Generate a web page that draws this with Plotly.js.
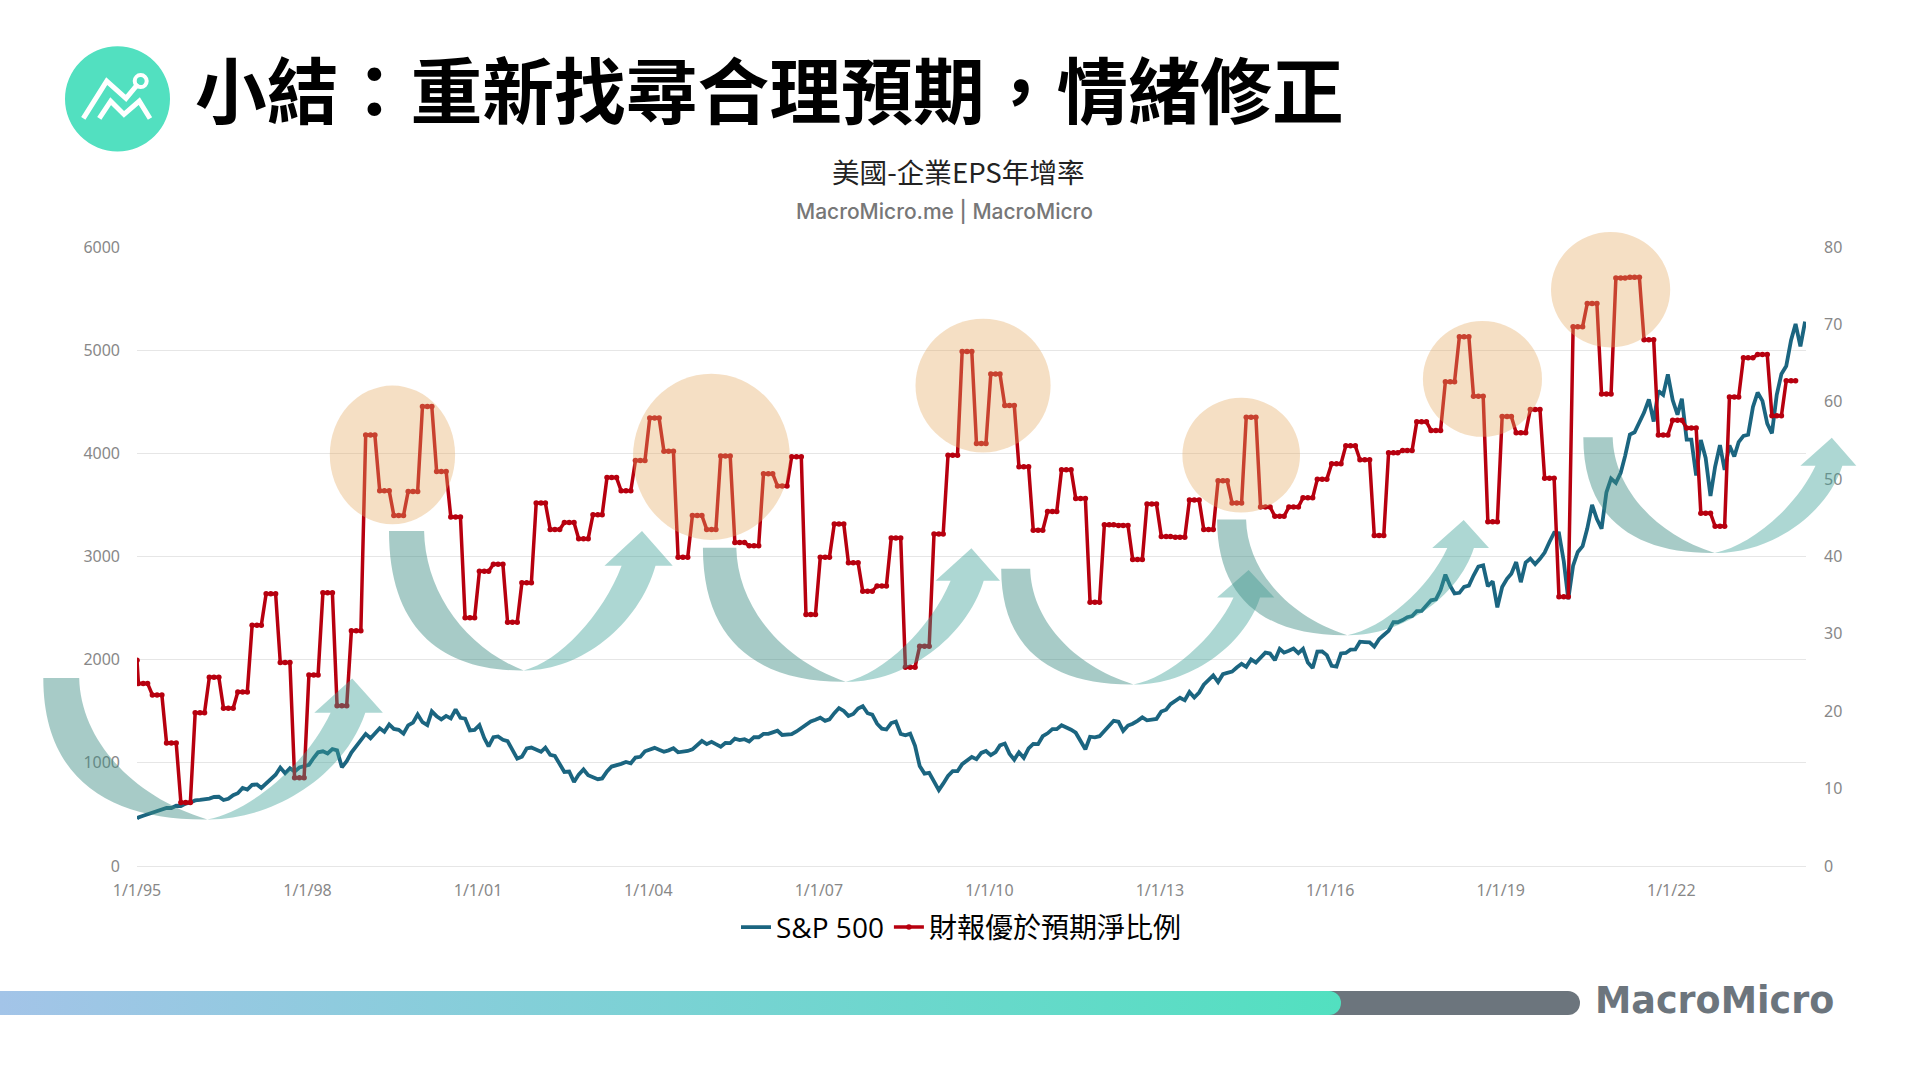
<!DOCTYPE html>
<html>
<head>
<meta charset="utf-8">
<script src="https://cdn.plot.ly/plotly-3.0.1.min.js"></script>
<style>
html,body{margin:0;padding:0;background:#fff;width:1920px;height:1080px;overflow:hidden}
#chart{position:absolute;left:0;top:0;width:1920px;height:1080px}
#barGray{position:absolute;left:1200px;top:991px;width:380px;height:24px;background:#6c757d;border-radius:0 12px 12px 0}
#barGrad{position:absolute;left:0;top:991px;width:1341px;height:24px;background:linear-gradient(90deg,#a3c4e8 0%,#52e0c0 100%);border-radius:0 12px 12px 0}
</style>
</head>
<body>
<div id="chart"></div>
<div id="barGray"></div>
<div id="barGrad"></div>
<script>
var titleText = '小結：重新找尋合理預期，情緒修正';
var subTitleText = '美國-企業EPS年增率';
var sourceText = 'MacroMicro.me | MacroMicro';
var brandText = 'MacroMicro';
var seriesNames = ['S&P 500', '財報優於預期淨比例'];
var xTickVals = ['1995-01-01','1998-01-01','2001-01-01','2004-01-01','2007-01-01','2010-01-01','2013-01-01','2016-01-01','2019-01-01','2022-01-01'];
var xTickText = ['1/1/95','1/1/98','1/1/01','1/1/04','1/1/07','1/1/10','1/1/13','1/1/16','1/1/19','1/1/22'];

// S&P 500, first value then one value per month from Jan 1995
var spFirst = 459;
var sp500 = [
470,487,501,515,533,545,562,562,584,582,605,616,
636,640,646,654,669,671,640,652,687,705,757,741,
786,791,757,801,848,885,954,899,947,915,955,970,
980,1049,1102,1112,1091,1134,1121,957,1017,1099,1164,1229,
1280,1238,1286,1335,1302,1373,1329,1320,1283,1363,1389,1469,
1394,1366,1499,1452,1421,1455,1431,1518,1437,1429,1315,1320,
1366,1240,1160,1249,1256,1224,1211,1134,1041,1060,1139,1148,
1130,1107,1147,1077,1067,990,912,916,815,886,936,880,
856,841,849,917,964,975,990,1008,996,1051,1058,1112,
1131,1145,1126,1107,1121,1141,1102,1104,1115,1130,1174,1212,
1181,1204,1181,1157,1192,1191,1234,1220,1229,1207,1249,1248,
1280,1281,1295,1311,1270,1270,1277,1304,1336,1378,1401,1418,
1438,1407,1421,1482,1531,1503,1455,1474,1527,1549,1481,1468,
1379,1331,1323,1386,1400,1280,1267,1283,1166,969,896,903,
826,735,798,873,919,919,987,1021,1057,1036,1096,1115,
1074,1104,1169,1187,1089,1031,1102,1049,1141,1183,1181,1258,
1286,1327,1326,1364,1345,1321,1292,1219,1131,1253,1247,1258,
1312,1366,1408,1398,1310,1362,1379,1407,1441,1412,1416,1426,
1498,1515,1569,1598,1631,1606,1686,1633,1682,1757,1806,1848,
1783,1859,1872,1884,1924,1960,1931,2003,1972,2018,2068,2059,
1995,2105,2068,2086,2107,2063,2104,1972,1920,2079,2080,2044,
1940,1932,2060,2065,2097,2099,2174,2171,2168,2126,2199,2239,
2279,2364,2363,2384,2412,2423,2470,2472,2519,2575,2585,2674,
2824,2714,2641,2648,2705,2718,2816,2902,2914,2712,2760,2507,
2704,2784,2834,2946,2751,2942,2980,2926,2977,3038,3141,3231,
3226,2954,2585,2912,3044,3100,3271,3500,3363,3270,3622,3756,
3714,3811,3973,4181,4204,4298,4395,4523,4308,4605,4567,4766,
4516,4374,4530,4132,4132,3785,4130,3955,3586,3872,4080,3840,
4077,3970,4109,4169,4180,4450,4589,4508,4288,4194,4568,4770,
4846,5096,5254,5036,5277];

// Net share beating estimates, first value then one value per quarter from Q1 1995
var epsFirst = 26.6;
var epsQuarterly = [
23.6,22.1,15.9,8.2,19.8,24.4,20.4,22.5,31.1,35.2,26.3,11.4,
24.7,35.3,20.7,30.4,55.7,48.5,45.3,48.4,59.4,51.0,45.1,32.1,
38.1,39.0,31.5,36.6,46.9,43.5,44.4,42.3,45.4,50.2,48.5,52.4,
57.9,53.6,39.9,45.3,43.5,53.0,41.8,41.4,50.7,49.1,52.9,32.5,
39.9,44.2,39.2,35.5,36.2,42.4,25.7,28.4,42.9,53.1,66.5,54.6,
63.6,59.5,51.6,43.4,45.8,51.2,47.5,34.1,44.1,44.0,39.6,46.8,
42.6,42.5,47.3,43.5,49.8,46.9,58.0,46.4,45.2,46.4,47.6,50.0,
52.0,54.3,52.5,42.7,53.4,53.7,57.4,56.3,62.6,68.4,60.7,44.5,
58.1,56.0,59.0,50.1,34.8,69.7,72.7,61.0,76.0,76.1,68.0,55.7,
57.6,56.6,45.6,43.9,60.6,65.7,66.1,58.2,62.7];

// overlay decoration, in page pixels
var W = 1920, H = 1080;
var mL = 137, mR = 114, mT = 247.4, mB = 214.3;
var pw = W - mL - mR, ph = H - mT - mB;
function px(x){ return (x - mL) / pw; }
function py(y){ return (H - mB - y) / ph; }
function P(x, y){ return px(x).toFixed(5) + ',' + py(y).toFixed(5); }

function monthDate(i){
  var y = 1995 + Math.floor(i / 12), m = i % 12 + 1;
  return y + '-' + (m < 10 ? '0' : '') + m + '-10';
}
var spX = ['1995-01-01'], spY = [spFirst];
sp500.forEach(function(v, i){ spX.push(monthDate(i)); spY.push(v); });
var epsX = ['1995-01-01'], epsY = [epsFirst];
epsQuarterly.forEach(function(v, k){
  for (var j = 0; j < 3; j++){ epsX.push(monthDate(3 * k + j)); epsY.push(v); }
});

var circles = [
 [329.8,455.1,385.8,524.3],[633,789.8,373.9,540],[915.5,1050.6,319,452.6],
 [1182.4,1300,398,512.7],[1422.9,1542,321.3,437],[1551,1670.2,232.5,347.7]];
// x0,x1,ytop, tipx,tipy, headL,headR,headY, apexX,apexY, shaftL,shaftR
var arrows = [
 [43.3,79.2,678, 207.3,819.2, 314.3,382.9,712.6, 352.2,678.3, 330.6,365.3],
 [389,424.1,531.2, 523.7,670.4, 604.5,672.7,565.9, 642,531.2, 621.6,655.5],
 [702.9,736.3,547.9, 845.7,681.6, 935.5,1000,580.7, 971.4,548.3, 950.6,983.7],
 [1001.2,1030.2,568.9, 1133.5,684.3, 1217.1,1274.3,597.4, 1248.6,570, 1233.5,1260],
 [1217.1,1246.1,519.5, 1347.3,635.2, 1432.2,1489,548.1, 1463.7,520, 1447.3,1473.9],
 [1583.3,1612.7,437.4, 1714.7,553, 1800.4,1856.3,466, 1831.8,437.9, 1815.5,1842.4]];

var shapes = [];
circles.forEach(function(c){
  shapes.push({type:'circle',xref:'paper',yref:'paper',x0:px(c[0]),x1:px(c[1]),y0:py(c[3]),y1:py(c[2]),
    fillcolor:'rgba(230,170,100,0.38)',line:{width:0},layer:'above'});
});
arrows.forEach(function(a){
  var x0=a[0],x1=a[1],yt=a[2],tx=a[3],ty=a[4],hl=a[5],hr=a[6],hy=a[7],ax=a[8],ay=a[9],sl=a[10],sr=a[11];
  var dy=ty-yt, di=tx-x1, dO=tx-x0, hd=ty-hy, dR=sr-tx, dL=sl-tx;
  var left = 'M'+P(x0,yt)+' L'+P(x1,yt)+
    ' C'+P(x1+0.01*di,yt+0.42*dy)+' '+P(tx-0.61*di,ty-0.17*dy)+' '+P(tx,ty)+
    ' C'+P(tx-0.58*dO,ty+1)+' '+P(x0,yt+0.73*dy)+' '+P(x0,yt)+' Z';
  var right = 'M'+P(tx,ty)+
    ' C'+P(tx+0.42*dR,ty+1)+' '+P(sr-0.13*dR,hy+0.58*hd)+' '+P(sr,hy)+
    ' L'+P(hr,hy)+' L'+P(ax,ay)+' L'+P(hl,hy)+' L'+P(sl,hy)+
    ' C'+P(sl-0.19*dL,hy+0.47*hd)+' '+P(tx+0.36*dL,ty-0.08*hd)+' '+P(tx,ty)+' Z';
  shapes.push({type:'path',xref:'paper',yref:'paper',path:left,fillcolor:'rgba(60,140,130,0.45)',line:{width:0},layer:'above'});
  shapes.push({type:'path',xref:'paper',yref:'paper',path:right,fillcolor:'rgba(60,160,150,0.42)',line:{width:0},layer:'above'});
});
// logo
shapes.push({type:'circle',xref:'paper',yref:'paper',x0:px(65),x1:px(170),y0:py(152),y1:py(47),fillcolor:'#52e0c0',line:{width:0}});
shapes.push({type:'path',xref:'paper',yref:'paper',path:'M'+P(83.3,119)+' L'+P(106.7,81.7)+' L'+P(126,99)+' L'+P(138,84.5),line:{color:'#fff',width:5}});
shapes.push({type:'path',xref:'paper',yref:'paper',path:'M'+P(99.3,119)+' L'+P(110.7,101.7)+' L'+P(124,115)+' L'+P(139.3,101.7)+' L'+P(150,119),line:{color:'#fff',width:5}});
shapes.push({type:'circle',xref:'paper',yref:'paper',x0:px(134.7),x1:px(146.7),y0:py(87.7),y1:py(75.7),line:{color:'#fff',width:4}});

var annotations = [
 {text:titleText,x:px(194),y:py(88),xanchor:'left',yanchor:'middle',font:{family:'"Noto Sans CJK TC"',size:71.8,color:'#000',weight:700}},
 {text:subTitleText,x:px(958),y:py(171),xanchor:'center',yanchor:'middle',font:{family:'"Noto Sans CJK TC"',size:27.6,color:'#222'}},
 {text:sourceText,x:px(944),y:py(211),xanchor:'center',yanchor:'middle',font:{family:'Inter',size:21,color:'#777',weight:500}},
 {text:brandText,x:px(1594),y:py(1000),xanchor:'left',yanchor:'middle',font:{family:'"DejaVu Sans"',size:36.5,color:'#6c757d',weight:700}}
].map(function(a){ a.xref='paper'; a.yref='paper'; a.showarrow=false; a.borderpad=0; return a; });

var tickFont = {family:'"Noto Sans"',size:16,color:'#888'};
var traces = [
 {name:seriesNames[0],x:spX,y:spY,type:'scatter',mode:'lines',yaxis:'y',line:{color:'#1b6580',width:3.8,shape:'linear'},hoverinfo:'x+y'},
 {name:seriesNames[1],x:epsX,y:epsY,type:'scatter',mode:'lines+markers',yaxis:'y2',line:{color:'#b7000f',width:3.5,shape:'linear'},marker:{color:'#b7000f',size:5.5},hoverinfo:'x+y'}
];
var layout = {
  width:W,height:H,autosize:false,
  margin:{l:mL,r:mR,t:mT,b:mB,pad:0},
  paper_bgcolor:'rgba(0,0,0,0)',plot_bgcolor:'rgba(0,0,0,0)',
  font:{family:'"Noto Sans CJK TC"'},
  xaxis:{type:'date',range:['1995-01-01','2024-05-16'],tickmode:'array',tickvals:xTickVals,ticktext:xTickText,
    showgrid:false,zeroline:false,showline:false,ticks:'',tickfont:tickFont,ticklabelstandoff:13,tickangle:0},
  yaxis:{range:[0,6000],tickvals:[0,1000,2000,3000,4000,5000,6000],showgrid:true,gridcolor:'#e6e6e6',gridwidth:1,
    zeroline:true,zerolinecolor:'#e6e6e6',zerolinewidth:1,showline:false,ticks:'',tickfont:tickFont,ticklabelstandoff:16},
  yaxis2:{range:[0,80],tickvals:[0,10,20,30,40,50,60,70,80],overlaying:'y',side:'right',showgrid:false,zeroline:false,
    showline:false,ticks:'',tickfont:tickFont,ticklabelstandoff:17},
  showlegend:true,
  legend:{orientation:'h',x:px(961),xanchor:'center',y:py(927),yanchor:'middle',
    font:{family:'"Open Sans","Noto Sans CJK TC"',size:28,color:'#000'},bgcolor:'rgba(0,0,0,0)',itemwidth:30,tracegroupgap:0},
  shapes:shapes,annotations:annotations
};
Plotly.newPlot('chart',traces,layout,{displayModeBar:false,staticPlot:true});
</script>
</body>
</html>
